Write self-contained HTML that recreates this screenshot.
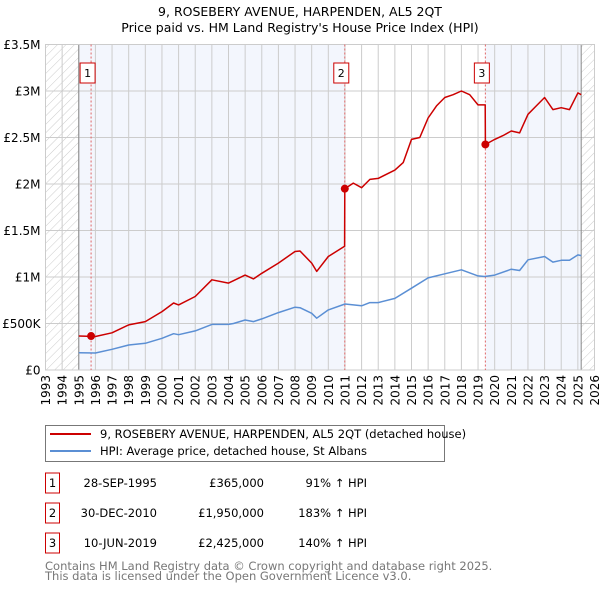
<!DOCTYPE html>
<html><head><meta charset="utf-8"><style>
body{margin:0;background:#fff;font-family:"Liberation Sans","DejaVu Sans",sans-serif;}
svg text{font-family:"DejaVu Sans","Liberation Sans",sans-serif;}
</style></head><body>
<svg id="c" width="600" height="590" xmlns="http://www.w3.org/2000/svg">
<defs><pattern id="hatch" width="6" height="6" patternUnits="userSpaceOnUse" patternTransform="rotate(45)"><line x1="0" y1="0" x2="0" y2="6" stroke="#ccc" stroke-width="1"/></pattern></defs>
<text x="300" y="16" text-anchor="middle" font-size="12.5" fill="#000">9, ROSEBERY AVENUE, HARPENDEN, AL5 2QT</text>
<text x="300" y="32" text-anchor="middle" font-size="12.5" fill="#000">Price paid vs. HM Land Registry's House Price Index (HPI)</text>
<g id="plot"></g>
<rect x="45.5" y="425.5" width="399" height="36" fill="#fff" stroke="#777"/>
<line x1="50" y1="434" x2="91" y2="434" stroke="#cc0000" stroke-width="2"/>
<text x="100" y="438" font-size="11.5">9, ROSEBERY AVENUE, HARPENDEN, AL5 2QT (detached house)</text>
<line x1="50" y1="451" x2="91" y2="451" stroke="#5b8fd4" stroke-width="2"/>
<text x="100" y="455" font-size="11.5">HPI: Average price, detached house, St Albans</text>
<g id="tbl" font-size="11.5"></g>
<text x="45" y="570" font-size="11.5" fill="#777">Contains HM Land Registry data © Crown copyright and database right 2025.</text>
<text x="45" y="580" font-size="11.5" fill="#777">This data is licensed under the Open Government Licence v3.0.</text>
</svg>
<script>
const hpiYears=[1995,1996,1997,1998,1999,2000,2000.7,2001,2002,2003,2004,2004.3,2005,2005.5,2006,2007,2008,2008.3,2009,2009.3,2010,2011,2012,2012.5,2013,2014,2015,2016,2017,2018,2019,2019.4,2020,2021,2021.5,2022,2023,2023.5,2024,2024.5,2025,2025.2];
const hpiValues=[0.186,0.183,0.223,0.269,0.287,0.341,0.39,0.38,0.42,0.49,0.49,0.50,0.538,0.52,0.55,0.617,0.675,0.67,0.61,0.557,0.646,0.71,0.69,0.725,0.725,0.77,0.88,0.99,1.034,1.077,1.012,1.005,1.02,1.084,1.07,1.185,1.22,1.16,1.18,1.18,1.238,1.23];
const priceYears=[1995,1996,1997,1998,1999,2000,2000.7,2001,2002,2003,2004,2004.3,2005,2005.5,2006,2007,2008,2008.3,2009,2009.3,2010,2010.98,2010.99,2011.5,2012,2012.5,2013,2014,2014.5,2015,2015.5,2016,2016.5,2017,2017.5,2018,2018.5,2019,2019.43,2019.44,2020,2020.5,2021,2021.5,2022,2022.5,2023,2023.5,2024,2024.5,2025,2025.2];
const priceValues=[0.366,0.36,0.40,0.485,0.52,0.628,0.72,0.70,0.79,0.97,0.934,0.96,1.02,0.98,1.04,1.15,1.274,1.28,1.15,1.06,1.22,1.33,1.95,2.01,1.96,2.05,2.06,2.15,2.23,2.48,2.5,2.71,2.84,2.93,2.96,3.0,2.96,2.85,2.85,2.425,2.48,2.52,2.57,2.55,2.75,2.84,2.93,2.8,2.82,2.8,2.98,2.96];
const saleYears=[1995.74,2010.99,2019.44];
const saleValues=[0.365,1.95,2.425];
const saleLabels=["1","2","3"];
const yTicks=[0,0.5,1,1.5,2,2.5,3,3.5];
const yTickLabels=["£0","£500K","£1M","£1.5M","£2M","£2.5M","£3M","£3.5M"];
const xTicks=[1993,1994,1995,1996,1997,1998,1999,2000,2001,2002,2003,2004,2005,2006,2007,2008,2009,2010,2011,2012,2013,2014,2015,2016,2017,2018,2019,2020,2021,2022,2023,2024,2025,2026];
const tableDates=["28-SEP-1995","30-DEC-2010","10-JUN-2019"];
const tablePrices=["£365,000","£1,950,000","£2,425,000"];
const tableHpi=["91% ↑ HPI","183% ↑ HPI","140% ↑ HPI"];
const dataStart=1995, dataEnd=2025.2;

const L=45.5,R=594.5,T=44.5,B=370;
const X=y=>L+(y-1993)/33*(R-L);
const Y=v=>B-v/3.5*(B-T);
const NS="http://www.w3.org/2000/svg";
const g=document.getElementById('plot');
function mk(t,a,p){const e=document.createElementNS(NS,t);for(const k in a)e.setAttribute(k,a[k]);(p||g).appendChild(e);return e;}
let e;
e=mk('rect',{x:L,y:T,width:R-L,height:B-T,fill:'#fff'});


e=mk('rect',{x:L,y:T,width:X(dataStart)-L,height:B-T,fill:'url(#hatch)'});


e=mk('rect',{x:X(dataEnd),y:T,width:R-X(dataEnd),height:B-T,fill:'url(#hatch)'});


e=mk('rect',{x:X(dataStart),y:T,width:X(saleYears[1])-X(dataStart),height:B-T,fill:'#f3f6fd'});


e=mk('rect',{x:X(saleYears[2]),y:T,width:X(dataEnd)-X(saleYears[2]),height:B-T,fill:'#f3f6fd'});


xTicks.forEach(t=>{
 e=mk('line',{x1:X(t),x2:X(t),y1:T,y2:B,stroke:'#ccc','stroke-width':1});
 
 
 e=mk('text',{x:0,y:0,transform:`translate(${X(t)+4.5},375) rotate(-90)`,'text-anchor':'end','font-size':12});
 e.textContent=t;
 
 
});
yTicks.forEach((t,i)=>{
 e=mk('line',{x1:L,x2:R,y1:Y(t),y2:Y(t),stroke:'#ccc','stroke-width':1});
 
 
 e=mk('text',{x:L-5,y:Y(t)+4.5,'text-anchor':'end','font-size':12});
 e.textContent=yTickLabels[i];
 
 
});
e=mk('line',{x1:X(dataStart),x2:X(dataStart),y1:T,y2:B,stroke:'#888'});


e=mk('line',{x1:X(dataEnd),x2:X(dataEnd),y1:T,y2:B,stroke:'#888'});


e=mk('rect',{x:L,y:T,width:R-L,height:B-T,fill:'none',stroke:'#ccc'});


saleYears.forEach((s,i)=>{
 e=mk('line',{x1:X(s),x2:X(s),y1:T,y2:B,stroke:'#e06666','stroke-dasharray':'2,2'});
 
 
});
const pts=(xs,vs)=>xs.map((x,i)=>X(x).toFixed(1)+','+Y(vs[i]).toFixed(1)).join(' ');
e=mk('polyline',{points:pts(hpiYears,hpiValues),fill:'none',stroke:'#5b8fd4','stroke-width':1.5,'stroke-linejoin':'round'});


e=mk('polyline',{points:pts(priceYears,priceValues),fill:'none',stroke:'#cc0000','stroke-width':1.5,'stroke-linejoin':'round'});


saleYears.forEach((s,i)=>{
 e=mk('circle',{cx:X(s),cy:Y(saleValues[i]),r:4,fill:'#cc0000'});
 
 
 e=mk('rect',{x:X(s)-11,y:63,width:15,height:20,fill:'#fff',stroke:'#cc0000'});
 
 
 e=mk('text',{x:X(s)-3.5,y:77,'text-anchor':'middle','font-size':11});
 e.textContent=saleLabels[i];
 
 
});
const tb=document.getElementById('tbl');
tableDates.forEach((d,i)=>{
 const y=487+i*30;
 e=mk('rect',{x:45.5,y:y-14,width:14,height:20,fill:'#fff',stroke:'#cc0000'},tb);
 
 
 e=mk('text',{x:52.5,y:y,'text-anchor':'middle'},tb);e.textContent=saleLabels[i];
 
 
 e=mk('text',{x:157,y:y,'text-anchor':'end'},tb);e.textContent=d;
 
 
 e=mk('text',{x:264,y:y,'text-anchor':'end'},tb);e.textContent=tablePrices[i];
 
 
 e=mk('text',{x:367,y:y,'text-anchor':'end'},tb);e.textContent=tableHpi[i];
 
 
});
</script>
</body></html>
